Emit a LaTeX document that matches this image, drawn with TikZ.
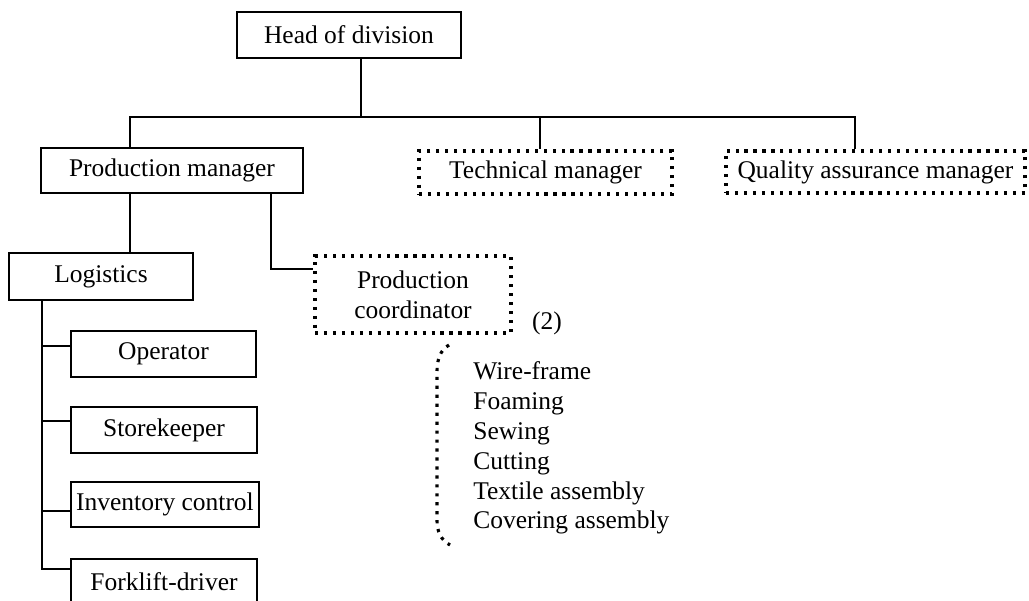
\documentclass[tikz,border=0pt]{standalone}
\usepackage{fontspec}
\setmainfont{Liberation Serif}
\begin{document}
\begin{tikzpicture}[
  x=0.02cm, y=-0.02cm,
  every node/.style={font=\fontsize{14.5}{17}\selectfont, inner sep=0pt},
  solidbox/.style={draw, line width=1.2pt, rectangle, align=center},
  dotbox/.style={draw, line width=1.8pt, dash pattern=on 1.8pt off 3.3pt, rectangle, align=center},
  link/.style={line width=1.3pt},
  dotline/.style={line width=1.8pt, dash pattern=on 1.8pt off 3.3pt}
]
\useasboundingbox (0,0) rectangle (1029,600);

% boxes
\node[solidbox, minimum width=4.48cm, minimum height=0.92cm] (head) at (349,35) {Head of division};
\node[solidbox, minimum width=5.24cm, minimum height=0.90cm] (pm) at (172,170.5) {Production manager};
\node[dotbox, minimum width=5.06cm, minimum height=0.86cm] (tm) at (545.5,172.5) {Technical manager};
\node[dotbox, minimum width=5.98cm, minimum height=0.84cm] (qa) at (875.5,172) {Quality assurance manager};
\node[solidbox, minimum width=3.68cm, minimum height=0.94cm] (log) at (101,276.5) {Logistics};
\node[dotbox, minimum width=3.92cm, minimum height=1.54cm] (pc) at (413,294.5) {Production\\coordinator};
\node[solidbox, minimum width=3.70cm, minimum height=0.92cm] (op) at (163.5,354) {Operator};
\node[solidbox, minimum width=3.72cm, minimum height=0.92cm] (sk) at (164,430) {Storekeeper};
\node[solidbox, minimum width=3.76cm, minimum height=0.90cm] (ic) at (165,504.5) {Inventory control};
\node[solidbox, minimum width=3.72cm, minimum height=0.92cm] (fd) at (164,582) {Forklift-driver};

% labels beside the coordinator
\node (two) at (547,323) {(2)};
\node[anchor=west, align=left] (list) at (473,448)
  {Wire-frame\\Foaming\\Sewing\\Cutting\\Textile assembly\\Covering assembly};

% junction points
\coordinate (bus) at (361,117);
\coordinate (bl) at (130,117);
\coordinate (bt) at (540,117);
\coordinate (br) at (855,117);
\coordinate (pcj) at (271,269);
\coordinate (s1) at (42,346);
\coordinate (s2) at (42,421);
\coordinate (s3) at (42,511);
\coordinate (s4) at (42,569);

% top level connectors
\draw[link] (head.south -| bus) -- (bus);
\draw[link] (pm.north -| bl) -- (bl) -- (br) -- (qa.north -| br);
\draw[link] (bt) -- (tm.north -| bt);

% production manager connectors
\draw[link] (pm.south -| bl) -- (log.north -| bl);
\draw[link] (pm.south -| pcj) |- (pc.west |- pcj);

% logistics spine and branches
\draw[link] (log.south -| s4) -- (s4) -- (s4 -| fd.west);
\draw[link] (s1) -- (s1 -| op.west);
\draw[link] (s2) -- (s2 -| sk.west);
\draw[link] (s3) -- (s3 -| ic.west);

% dotted bracket grouping the workshop list
\draw[dotline] (449,345) .. controls (440,350) and (437,360) .. (437,372)
  -- (437,520) .. controls (437,532) and (441,540) .. (450,545);
\end{tikzpicture}
\end{document}
